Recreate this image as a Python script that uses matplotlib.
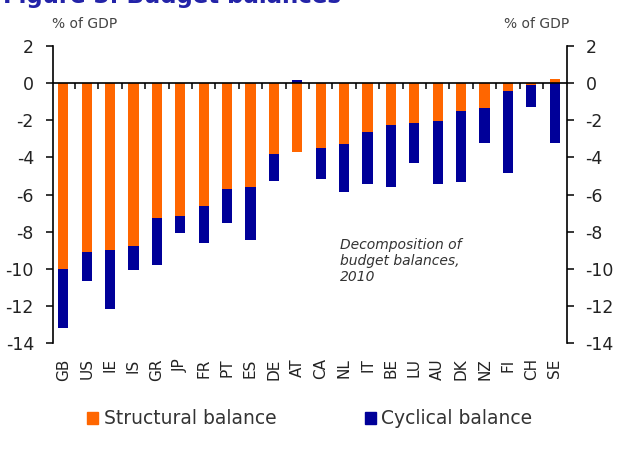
import numpy as np
import matplotlib.pyplot as plt
from matplotlib.patches import Patch

plt.rcParams['font.family'] = 'DejaVu Sans'
plt.rcParams['axes.unicode_minus'] = False

# data (% of GDP, 2010)
countries = ['GB', 'US', 'IE', 'IS', 'GR', 'JP', 'FR', 'PT', 'ES', 'DE', 'AT',
             'CA', 'NL', 'IT', 'BE', 'LU', 'AU', 'DK', 'NZ', 'FI', 'CH', 'SE']
structural = [-10.0, -9.1, -9.0, -8.8, -7.25, -7.15, -6.6, -5.7, -5.6, -3.8, -3.7,
              -3.5, -3.3, -2.65, -2.25, -2.15, -2.05, -1.5, -1.35, -0.45, -0.1, 0.2]
cyclical = [-3.2, -1.55, -3.15, -1.25, -2.55, -0.95, -2.0, -1.85, -2.85, -1.45, 0.15,
            -1.65, -2.55, -2.8, -3.35, -2.15, -3.4, -3.85, -1.9, -4.4, -1.2, -3.2]
yticks = [2, 0, -2, -4, -6, -8, -10, -12, -14]

ORANGE = '#ff6600'
NAVY = '#000099'
TXT = '#222222'

s = np.array(structural)
c = np.array(cyclical)
x = np.arange(len(countries))
# stack cyclical on top of structural only when they share a sign
bottom = np.where(np.sign(s) == np.sign(c), s, 0)

fig = plt.figure(figsize=(6.36, 4.62), dpi=100)
ax = fig.add_axes([0.0829, 0.2576, 0.8081, 0.6428])

w = 0.44
ax.bar(x, s, width=w, color=ORANGE, zorder=2)
ax.bar(x, c, width=w, bottom=bottom, color=NAVY, zorder=2)

ax.set_xlim(-0.45, len(countries) - 0.49)
ax.set_ylim(-14, 2)

# zero line with little separators between countries
ax.axhline(0, color='black', lw=1.2, zorder=3)
ax.vlines(x[:-1] + 0.5, -0.3, 0, color='black', lw=1.1, zorder=3)

for side in ['top', 'bottom']:
    ax.spines[side].set_visible(False)
for side in ['left', 'right']:
    ax.spines[side].set_linewidth(1.2)

ax.set_yticks(yticks)
ax.set_yticklabels([str(v) for v in yticks])
ax.tick_params(axis='y', left=True, right=True, labelleft=True, labelright=True,
               direction='out', length=5, width=1.1, pad=8.5, labelsize=12.5,
               labelcolor=TXT)
ax.set_xticks(x)
ax.set_xticklabels(countries, rotation=90)
ax.tick_params(axis='x', length=0, pad=11, labelsize=11, labelcolor=TXT)

fig.text(84.7 / 636, 1 - 24 / 462, '% of GDP', ha='center', va='center',
         fontsize=10, color='#444444')
fig.text(536.7 / 636, 1 - 24 / 462, '% of GDP', ha='center', va='center',
         fontsize=10, color='#444444')

ax.text(0.559, 0.352, 'Decomposition of\nbudget balances,\n2010', transform=ax.transAxes,
        ha='left', va='top', fontsize=10, style='italic', color='#333333',
        linespacing=1.15)

fig.text(0.005, 1 - 3 / 462, 'Figure 3: Budget balances', ha='left', va='baseline',
         fontsize=16.5, weight='bold', color='#2323a8')

handles = [Patch(color=ORANGE), Patch(color=NAVY)]
fig.legend(handles, ['Structural balance', 'Cyclical balance'], loc='center',
           bbox_to_anchor=(0.487, 1 - 419 / 462), ncol=2, frameon=False,
           fontsize=13.5, handlelength=0.6, handleheight=0.6, handletextpad=0.3,
           columnspacing=4.7, labelcolor='#333333')

fig.savefig('out.png', dpi=100, facecolor='white')
